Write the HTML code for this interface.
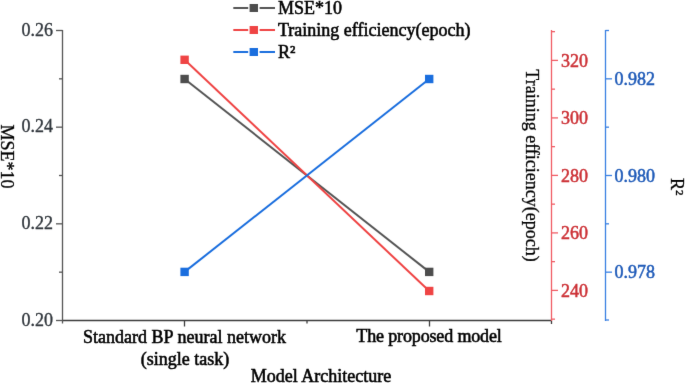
<!DOCTYPE html>
<html>
<head>
<meta charset="utf-8">
<style>
html,body{margin:0;padding:0;background:#fff;}
body{width:685px;height:383px;overflow:hidden;position:relative;}
svg{position:absolute;left:0;top:0;}
text{font-family:"Liberation Serif",serif;font-size:18px;stroke-width:0.55px;paint-order:stroke;}
</style>
</head>
<body>
<svg width="685" height="383" viewBox="0 0 685 383">
<defs><filter id="bl" x="0" y="0" width="685" height="383" filterUnits="userSpaceOnUse" color-interpolation-filters="sRGB"><feConvolveMatrix order="3" kernelMatrix="0.0072 0.0847 0.0072 0.0847 1.0000 0.0847 0.0072 0.0847 0.0072" edgeMode="duplicate"/></filter></defs>
<g filter="url(#bl)"><rect width="685" height="383" fill="#fff"/>
<g stroke="#3c3c3c" stroke-width="1.3" fill="none">
<line x1="62" y1="320.5" x2="551" y2="320.5"/>
<line x1="184.5" y1="320.5" x2="184.5" y2="326.5"/>
<line x1="429.5" y1="320.5" x2="429.5" y2="326.5"/>
<line x1="307" y1="320.5" x2="307" y2="323.5"/>
<line x1="551.5" y1="320.5" x2="551.5" y2="324.0"/>
</g>
<g stroke="#555" stroke-width="1.3" fill="none">
<line x1="62.5" y1="30" x2="62.5" y2="323.5"/>
<line x1="56.0" y1="320.50" x2="62.5" y2="320.50"/>
<line x1="59.0" y1="272.17" x2="62.5" y2="272.17"/>
<line x1="56.0" y1="223.83" x2="62.5" y2="223.83"/>
<line x1="59.0" y1="175.50" x2="62.5" y2="175.50"/>
<line x1="56.0" y1="127.17" x2="62.5" y2="127.17"/>
<line x1="59.0" y1="78.83" x2="62.5" y2="78.83"/>
<line x1="56.0" y1="30.50" x2="62.5" y2="30.50"/>
</g>
<g stroke="#f05c64" stroke-width="1.3" fill="none">
<line x1="551.5" y1="30" x2="551.5" y2="321"/>
<line x1="551.5" y1="319.15" x2="555.0" y2="319.15"/>
<line x1="551.5" y1="290.40" x2="558.0" y2="290.40"/>
<line x1="551.5" y1="261.65" x2="555.0" y2="261.65"/>
<line x1="551.5" y1="232.90" x2="558.0" y2="232.90"/>
<line x1="551.5" y1="204.15" x2="555.0" y2="204.15"/>
<line x1="551.5" y1="175.40" x2="558.0" y2="175.40"/>
<line x1="551.5" y1="146.65" x2="555.0" y2="146.65"/>
<line x1="551.5" y1="117.90" x2="558.0" y2="117.90"/>
<line x1="551.5" y1="89.15" x2="555.0" y2="89.15"/>
<line x1="551.5" y1="60.40" x2="558.0" y2="60.40"/>
<line x1="551.5" y1="31.65" x2="555.0" y2="31.65"/>
</g>
<g stroke="#3a80e2" stroke-width="1.3" fill="none">
<line x1="605.5" y1="30" x2="605.5" y2="321"/>
<line x1="605.5" y1="320.00" x2="609.0" y2="320.00"/>
<line x1="605.5" y1="272.17" x2="612.0" y2="272.17"/>
<line x1="605.5" y1="223.83" x2="609.0" y2="223.83"/>
<line x1="605.5" y1="175.50" x2="612.0" y2="175.50"/>
<line x1="605.5" y1="127.17" x2="609.0" y2="127.17"/>
<line x1="605.5" y1="78.83" x2="612.0" y2="78.83"/>
<line x1="605.5" y1="30.50" x2="609.0" y2="30.50"/>
</g>
<line x1="184.6" y1="79.0" x2="429.2" y2="271.9" stroke="#555" stroke-width="2"/>
<line x1="184.6" y1="59.8" x2="429.2" y2="291.0" stroke="#ef4444" stroke-width="2"/>
<line x1="184.6" y1="271.9" x2="429.2" y2="79.0" stroke="#1a6ede" stroke-width="2"/>
<rect x="180.40" y="74.80" width="8.4" height="8.4" fill="#4d4d4d"/>
<rect x="425.00" y="267.70" width="8.4" height="8.4" fill="#4d4d4d"/>
<rect x="180.40" y="55.60" width="8.4" height="8.4" fill="#ef4444"/>
<rect x="425.00" y="286.80" width="8.4" height="8.4" fill="#ef4444"/>
<rect x="180.40" y="267.70" width="8.4" height="8.4" fill="#1a6ede"/>
<rect x="425.00" y="74.80" width="8.4" height="8.4" fill="#1a6ede"/>
<line x1="233.3" y1="8" x2="248.2" y2="8" stroke="#555" stroke-width="2"/>
<line x1="259.6" y1="8" x2="275" y2="8" stroke="#555" stroke-width="2"/>
<rect x="249.6" y="4" width="8.4" height="8" fill="#4d4d4d"/>
<line x1="233.3" y1="30" x2="248.2" y2="30" stroke="#ef4444" stroke-width="2"/>
<line x1="259.6" y1="30" x2="275" y2="30" stroke="#ef4444" stroke-width="2"/>
<rect x="249.6" y="26" width="8.4" height="8" fill="#ef4444"/>
<line x1="233.3" y1="52" x2="248.2" y2="52" stroke="#1a6ede" stroke-width="2"/>
<line x1="259.6" y1="52" x2="275" y2="52" stroke="#1a6ede" stroke-width="2"/>
<rect x="249.6" y="48" width="8.4" height="8" fill="#1a6ede"/>
<text x="278" y="13.8" fill="#000" stroke="#000">MSE*10</text>
<text x="278" y="36.0" fill="#000" stroke="#000">Training efficiency(epoch)</text>
<text x="278" y="58.0" fill="#000" stroke="#000">R²</text>
<text x="53" y="35.6" fill="#30363c" stroke="#30363c" style="stroke-width:0.35px" text-anchor="end">0.26</text>
<text x="53" y="132.3" fill="#30363c" stroke="#30363c" style="stroke-width:0.35px" text-anchor="end">0.24</text>
<text x="53" y="228.9" fill="#30363c" stroke="#30363c" style="stroke-width:0.35px" text-anchor="end">0.22</text>
<text x="53" y="325.6" fill="#30363c" stroke="#30363c" style="stroke-width:0.35px" text-anchor="end">0.20</text>
<text x="561" y="66.7" fill="#cc3035" stroke="#cc3035" style="stroke-width:0.5px">320</text>
<text x="561" y="124.2" fill="#cc3035" stroke="#cc3035" style="stroke-width:0.5px">300</text>
<text x="561" y="181.7" fill="#cc3035" stroke="#cc3035" style="stroke-width:0.5px">280</text>
<text x="561" y="239.2" fill="#cc3035" stroke="#cc3035" style="stroke-width:0.5px">260</text>
<text x="561" y="296.7" fill="#cc3035" stroke="#cc3035" style="stroke-width:0.5px">240</text>
<text x="614.5" y="84.8" fill="#1e5ab8" stroke="#1e5ab8" style="stroke-width:0.5px">0.982</text>
<text x="614.5" y="181.5" fill="#1e5ab8" stroke="#1e5ab8" style="stroke-width:0.5px">0.980</text>
<text x="614.5" y="278.2" fill="#1e5ab8" stroke="#1e5ab8" style="stroke-width:0.5px">0.978</text>
<text x="184.5" y="343" fill="#000" stroke="#000" text-anchor="middle">Standard BP neural network</text>
<text x="185" y="364.5" fill="#000" stroke="#000" text-anchor="middle">(single task)</text>
<text x="429" y="341.5" fill="#000" stroke="#000" letter-spacing="-0.15" text-anchor="middle">The proposed model</text>
<text x="321" y="381.5" fill="#000" stroke="#000" text-anchor="middle">Model Architecture</text>
<text transform="translate(1.0,124.6) rotate(90)" fill="#000" stroke="#000" style="stroke-width:0.3px">MSE*10</text>
<text transform="translate(525.5,69.3) rotate(90)" fill="#000" stroke="#000" style="stroke-width:0.3px">Training efficiency(epoch)</text>
<text transform="translate(670.9,178) rotate(90)" fill="#000" stroke="#000" style="stroke-width:0.3px">R²</text>
</g>
</svg>
</body>
</html>
